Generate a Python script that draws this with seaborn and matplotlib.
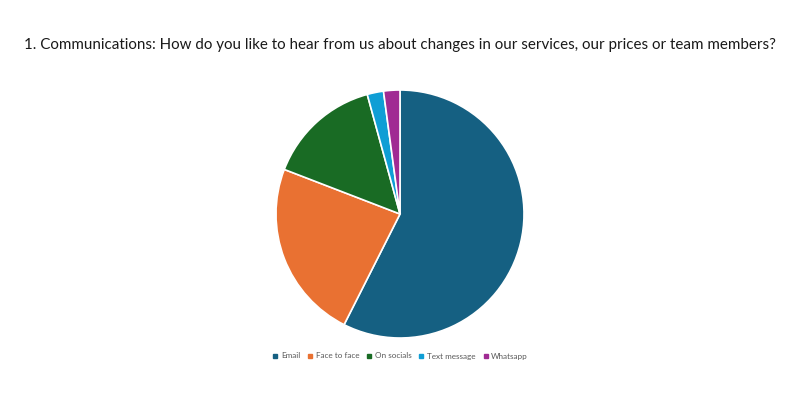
import matplotlib
matplotlib.use("Agg")
import matplotlib.pyplot as plt
import seaborn as sns
from matplotlib.lines import Line2D

# survey answers (counts)
labels = ["Email", "Face to face", "On socials", "Text message", "Whatsapp"]
counts = [27, 11, 7, 1, 1]
colours = ["#156082", "#E97132", "#196B24", "#0F9ED5", "#A02B93"]

title = ("1. Communications: How do you like to hear from us about changes "
         "in our services, our prices or team members?")

sns.set_theme(style="white")
plt.rcParams['font.family'] = ['Lato', 'DejaVu Sans']

fig = plt.figure(figsize=(8, 4), dpi=100)
fig.patch.set_facecolor("white")

ax = fig.add_axes([276 / 800, 62 / 400, 248 / 800, 248 / 400])
ax.pie(counts, colors=sns.color_palette(colours), startangle=90, counterclock=False,
       radius=1.0, wedgeprops=dict(edgecolor="white", linewidth=1.2))
ax.set_xlim(-1.0, 1.0)
ax.set_ylim(-1.0, 1.0)
ax.set_aspect("equal")
ax.axis("off")

fig.text(0.5, 1 - 45 / 400, title, ha="center", va="center",
         fontsize=10.9, color="#1a1a1a")

handles = [Line2D([0], [0], marker="s", linestyle="none", markersize=3.0,
                  markerfacecolor=c, markeredgecolor=c) for c in colours]
fig.legend(handles, labels, loc="center", bbox_to_anchor=(0.5, 1 - 356 / 400),
           ncol=5, frameon=False, fontsize=5.9, labelcolor="#595959",
           handletextpad=0.3, columnspacing=0.8, handlelength=0.8)

fig.savefig("out.png", dpi=100, facecolor="white")
